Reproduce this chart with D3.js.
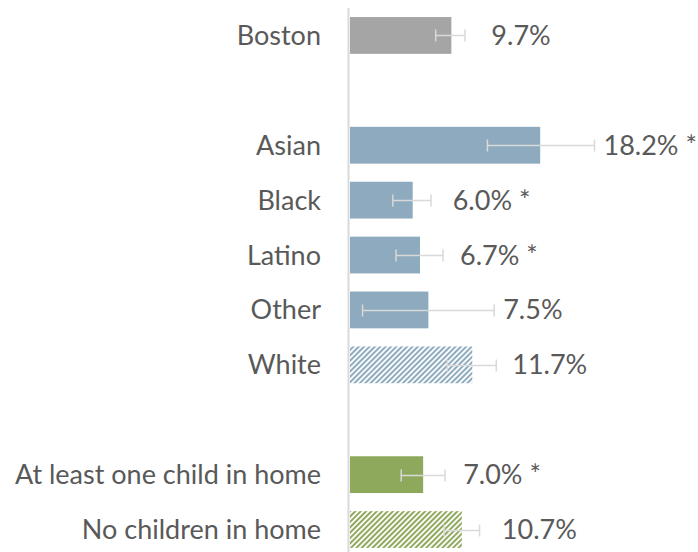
<!DOCTYPE html>
<html><head><meta charset="utf-8">
<script src="https://cdn.jsdelivr.net/npm/d3@7"></script>
<style>body{margin:0;background:#fff;}svg{display:block;}</style>
</head><body>
<script>
const categories = ["Boston", "", "Asian", "Black", "Latino", "Other", "White", " ", "At least one child in home", "No children in home"];
const values     = [9.7, null, 18.2, 6.0, 6.7, 7.5, 11.7, null, 7.0, 10.7];
const errLow     = [8.2, null, 13.15, 4.1, 4.4, 1.2, 9.3, null, 4.9, 9.0];
const errHigh    = [11.0, null, 23.4, 7.75, 8.9, 13.8, 14.0, null, 9.1, 12.4];
const labels     = ["9.7%", "", "18.2% *", "6.0% *", "6.7% *", "7.5%", "11.7%", "", "7.0% *", "10.7%"];
const groups     = ["total", null, "race", "race", "race", "race", "race", null, "kids", "kids"];
const hatched    = [false, false, false, false, false, false, true, false, false, true];

const W = 698, H = 552;
const colors = {total: "#a5a5a5", race: "#8eaabe", kids: "#8ea85c"};

const svg = d3.select("body").append("svg").attr("width", W).attr("height", H);
const defs = svg.append("defs");
Object.entries(colors).forEach(([k, c]) => {
  const p = defs.append("pattern").attr("id", "hatch-" + k)
    .attr("patternUnits", "userSpaceOnUse").attr("width", 3.8).attr("height", 3.8)
    .attr("patternTransform", "rotate(45)");
  p.append("rect").attr("width", 3.8).attr("height", 3.8).attr("fill", "#fff");
  p.append("rect").attr("width", 2.0).attr("height", 3.8).attr("fill", c);
});

const x = d3.scaleLinear().domain([0, 1]).range([350, 360.45]);
const y = d3.scaleBand().domain(d3.range(categories.length)).range([8, 557]).paddingInner(0.33).paddingOuter(0.165);

const idx = d3.range(categories.length);
const font = "Lato, 'Open Sans', sans-serif";
const fs = 27;

// category labels
svg.append("g").selectAll("text").data(idx.filter(i => categories[i].trim() !== ""))
  .join("text")
  .attr("x", 321).attr("y", i => y(i) + y.bandwidth() / 2 - 1)
  .attr("text-anchor", "end").attr("dominant-baseline", "central")
  .attr("font-family", font).attr("font-size", fs).attr("fill", "#595959")
  .text(i => categories[i]);

const data = idx.filter(i => values[i] != null);

// bars
svg.append("g").selectAll("rect").data(data).join("rect")
  .attr("x", x(0)).attr("y", i => y(i))
  .attr("width", i => x(values[i]) - x(0)).attr("height", y.bandwidth())
  .attr("fill", i => hatched[i] ? `url(#hatch-${groups[i]})` : colors[groups[i]]);

// axis line
svg.append("line").attr("x1", 348.5).attr("x2", 348.5).attr("y1", 8).attr("y2", H)
  .attr("stroke", "#d9d9d9").attr("stroke-width", 2);

// error bars
const eb = svg.append("g").attr("stroke", "#d9d9d9").attr("stroke-width", 1.5).attr("fill", "none");
data.forEach(i => {
  const cy = Math.round(y(i) + y.bandwidth() / 2) + 0.5;
  eb.append("line").attr("x1", x(errLow[i])).attr("x2", x(errHigh[i])).attr("y1", cy).attr("y2", cy);
  [errLow[i], errHigh[i]].forEach(v => {
    eb.append("line").attr("x1", x(v)).attr("x2", x(v)).attr("y1", cy - 6).attr("y2", cy + 6);
  });
});

// value labels: after the bar end, but clear of the error bar
svg.append("g").selectAll("text").data(data).join("text")
  .attr("x", i => Math.max(x(values[i]) + 40, x(errHigh[i]) + 9))
  .attr("y", i => y(i) + y.bandwidth() / 2 - 1)
  .attr("dominant-baseline", "central")
  .attr("font-family", font).attr("font-size", fs).attr("fill", "#595959")
  .text(i => labels[i]);
</script>
</body></html>
